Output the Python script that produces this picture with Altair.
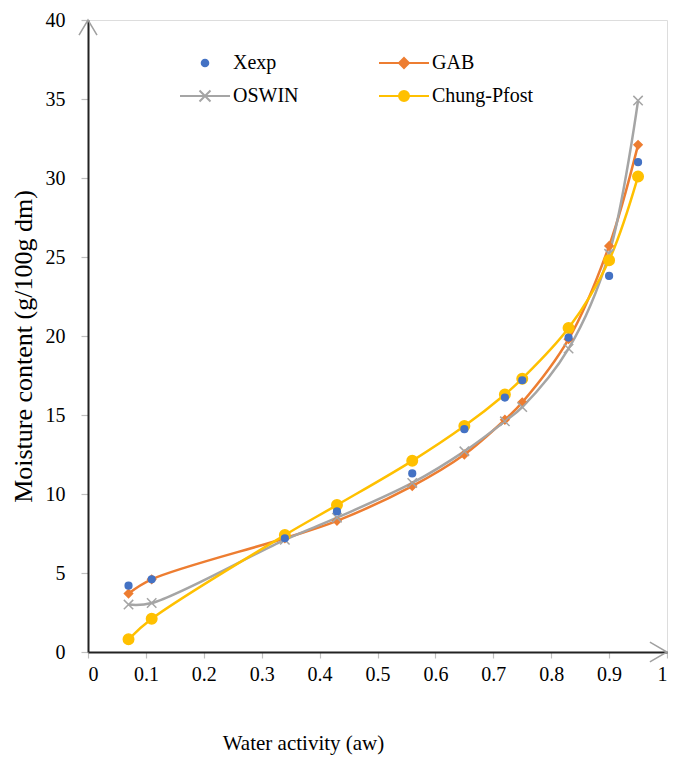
import altair as alt
import pandas as pd

# ---- data ----
aw = [0.07, 0.11, 0.34, 0.43, 0.56, 0.65, 0.72, 0.75, 0.83, 0.90, 0.95]
xexp = [4.2, 4.6, 7.2, 8.9, 11.3, 14.1, 16.1, 17.2, 19.9, 23.8, 31.0]
gab = [3.7, 4.6, 7.2, 8.3, 10.5, 12.5, 14.7, 15.8, 19.8, 25.7, 32.1]
oswin = [3.0, 3.1, 7.1, 8.5, 10.7, 12.7, 14.6, 15.5, 19.2, 25.2, 34.9]
chung = [0.8, 2.1, 7.4, 9.3, 12.1, 14.3, 16.3, 17.3, 20.5, 24.8, 30.1]

SERIES = ["Xexp", "GAB", "OSWIN", "Chung-Pfost"]
COLORS = ["#4472C4", "#ED7D31", "#A5A5A5", "#FFC000"]
X_TICKS = [0, 0.1, 0.2, 0.3, 0.4, 0.5, 0.6, 0.7, 0.8, 0.9, 1]
Y_TICKS = [0, 5, 10, 15, 20, 25, 30, 35, 40]
X_DOMAIN = [0, 1]
Y_DOMAIN = [0, 40]

X_PATH = "M-1,-1L1,1M-1,1L1,-1"
SHAPES = ["circle", "diamond", X_PATH, "circle"]
SIZES = [45, 110, 160, 120]


def circ(r):
    return f"M-{r},0A{r},{r},0,1,1,{r},0A{r},{r},0,1,1,-{r},0Z"


LEGEND_SHAPES = [
    circ(0.66),
    "M-5,0L5,0M0,-1L1,0L0,1L-1,0Z",
    "M-5,0L5,0M-1.1,-1.1L1.1,1.1M-1.1,1.1L1.1,-1.1",
    "M-5,0L5,0" + circ(1),
]

values = {"Xexp": xexp, "GAB": gab, "OSWIN": oswin, "Chung-Pfost": chung}
draw_order = ["GAB", "OSWIN", "Chung-Pfost", "Xexp"]
rows = []
for k, s in enumerate(draw_order):
    for a, v in zip(aw, values[s]):
        rows.append({"aw": a, "mc": v, "series": s, "draw": k})
df = pd.DataFrame(rows)

FONT = "Liberation Serif"

x_enc = alt.X(
    "aw:Q",
    scale=alt.Scale(domain=X_DOMAIN, nice=False, zero=False),
    axis=alt.Axis(
        values=X_TICKS, format="~g", title="Water activity (aw)",
        labelFont=FONT, labelFontSize=20, labelColor="#000",
        tickColor="#BFBFBF", tickSize=6, tickWidth=1.2,
        domainColor="#222", domainWidth=2, labelPadding=6,
        grid=False, titleFont=FONT, titleFontSize=21,
        titleFontWeight="normal", titleColor="#000",
        titleX=215, titleY=97, titleAlign="center",
        titleBaseline="alphabetic", titleAnchor="start",
    ),
)
y_enc = alt.Y(
    "mc:Q",
    scale=alt.Scale(domain=Y_DOMAIN, nice=False),
    axis=alt.Axis(
        values=Y_TICKS, title="Moisture content (g/100g dm)",
        labelFont=FONT, labelFontSize=20, labelColor="#000",
        tickColor="#BFBFBF", tickSize=7, tickWidth=1.2,
        domainColor="#222", domainWidth=2, labelPadding=16,
        grid=False, titleFont=FONT, titleFontSize=26,
        titleFontWeight="normal", titleColor="#000",
        titleAngle=270, titleX=-65, titleY=326, titleAlign="center",
        titleBaseline="middle", titleAnchor="start",
    ),
)

legend = alt.Legend(
    title=None, orient="none", legendX=107, legendY=33, columns=2,
    direction="horizontal",
    columnPadding=76, rowPadding=13, padding=0,
    labelFont=FONT, labelFontSize=20, labelColor="#000", labelLimit=0,
    labelOffset=18, symbolSize=100, symbolOpacity=1, symbolStrokeWidth=2,
)


def cscale():
    return alt.Scale(domain=SERIES, range=COLORS)


lines = alt.Chart(df).transform_filter(
    alt.datum.series != "Xexp"
).mark_line(interpolate="catmull-rom", strokeWidth=2.5).encode(
    x=x_enc, y=y_enc,
    color=alt.Color("series:N", scale=cscale(), legend=None),
)

points = alt.Chart(df).mark_point(filled=True, opacity=1, strokeWidth=1.5).encode(
    x=x_enc, y=y_enc,
    color=alt.Color("series:N", scale=cscale(), legend=None),
    stroke=alt.Stroke("series:N", scale=cscale(), legend=None),
    shape=alt.Shape("series:N", scale=alt.Scale(domain=SERIES, range=SHAPES), legend=None),
    size=alt.Size("series:O", scale=alt.Scale(domain=SERIES, range=SIZES), legend=None),
    order=alt.Order("draw:Q"),
)

# legend-only layer (no rows drawn), its symbols are line + marker
legend_layer = alt.Chart(df).transform_filter("false").mark_point(
    filled=True, opacity=1, strokeWidth=2, size=100
).encode(
    x=x_enc, y=y_enc,
    color=alt.Color("series:N", scale=cscale(), legend=legend),
    stroke=alt.Stroke("series:N", scale=cscale(), legend=legend),
    shape=alt.Shape("series:N", scale=alt.Scale(domain=SERIES, range=LEGEND_SHAPES), legend=legend),
)

arrow_df = pd.DataFrame({"k": [0]})
arrow_up = alt.Chart(arrow_df).mark_point(
    shape="M-1,1.67L0,0L1,1.67", size=324, filled=False, stroke="#A0A0A0",
    strokeWidth=1.5, opacity=1,
).encode(x=alt.datum(X_DOMAIN[0]), y=alt.datum(Y_DOMAIN[1]))
arrow_right = alt.Chart(arrow_df).mark_point(
    shape="M-1.9,-1.1L0,0L-1.9,1.1", size=324, filled=False, stroke="#A0A0A0",
    strokeWidth=1.5, opacity=1,
).encode(x=alt.datum(X_DOMAIN[1]), y=alt.datum(Y_DOMAIN[0]))

chart = alt.layer(lines, points, legend_layer, arrow_up, arrow_right).resolve_scale(
    color="independent", stroke="independent", shape="independent", size="independent"
).properties(
    width=579, height=632,
    autosize=alt.AutoSizeParams(type="none"),
    padding={"left": 80, "top": 12, "right": 1, "bottom": 103},
).configure_view(
    stroke="#000", strokeWidth=2.5
).configure(background="white")

chart.save("out.html", embed_options={"renderer": "svg", "actions": False})
